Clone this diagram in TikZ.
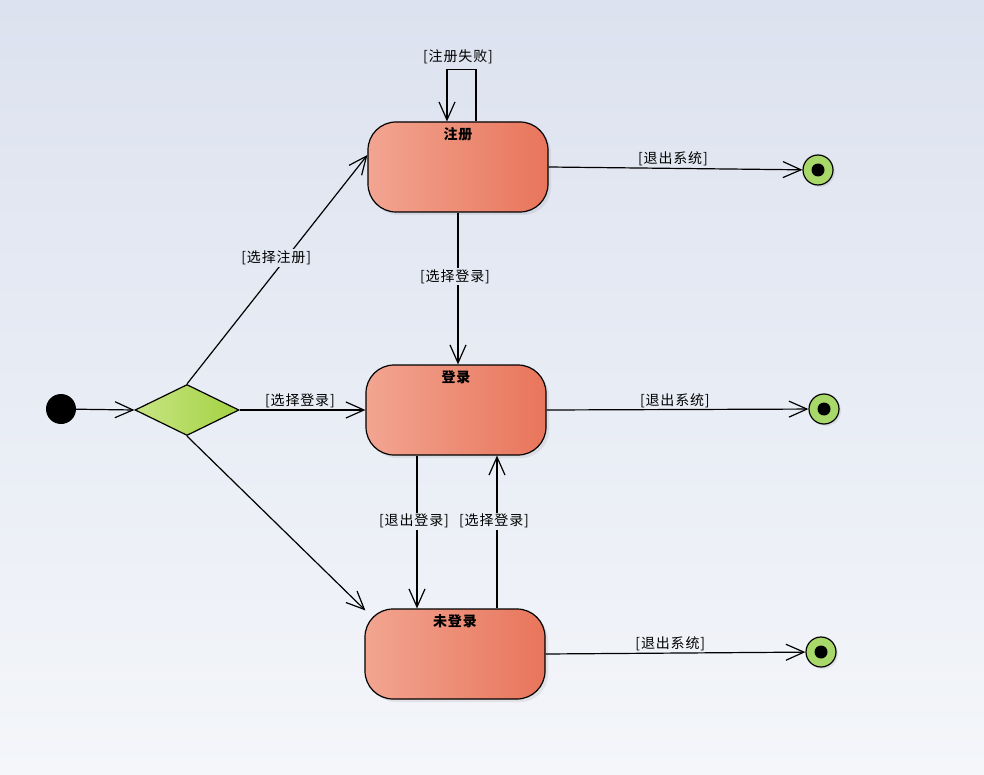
\documentclass[tikz,border=0pt]{standalone}
\usepackage{fontspec}
\newfontfamily\cjk[LetterSpace=6]{Noto Sans CJK SC}
\newfontfamily\cjktitle[LetterSpace=6]{Noto Sans CJK SC}
\usetikzlibrary{arrows.meta,positioning,shapes.geometric,shadows}

\definecolor{bgtop}{HTML}{DCE2EF}
\definecolor{bgbot}{HTML}{F4F6FA}
\definecolor{statel}{HTML}{F2A591}
\definecolor{stater}{HTML}{E8755B}
\definecolor{choicel}{HTML}{C8E585}
\definecolor{choicer}{HTML}{A3D241}
\definecolor{endfill}{HTML}{A9D86A}

\begin{document}
\begin{tikzpicture}[
    x=1pt, y=-1pt,
    state/.style={rectangle, draw, rounded corners=28pt, minimum width=180pt, minimum height=90pt, line width=1.2pt, left color=statel, right color=stater, drop shadow={shadow xshift=3pt, shadow yshift=-3pt, opacity=0.15}},
    statetitle/.style={font=\cjktitle\bfseries\fontsize{14}{16}\selectfont, inner sep=0pt},
    choice/.style={diamond, draw, line width=1.2pt, inner sep=0pt, minimum width=104pt, minimum height=51pt, left color=choicel, right color=choicer},
    startdot/.style={circle, fill=black, minimum size=30pt, inner sep=0pt},
    final/.style={circle, draw, line width=1.2pt, fill=endfill, minimum size=30pt, inner sep=0pt, drop shadow={shadow xshift=2pt, shadow yshift=-2pt, opacity=0.15}},
    finaldot/.style={circle, fill=black, minimum size=13pt, inner sep=0pt},
    arrow/.style={-{Straight Barb[length=18pt, width=16pt]}, line width=1.2pt},
    guard/.style={font=\cjk\fontsize{14}{16}\selectfont, inner sep=1.5pt},
    guardfill/.style={guard, fill=#1}
]
% Background
\fill[top color=bgtop, bottom color=bgbot] (0,0) rectangle (984,775);
\useasboundingbox (0,0) rectangle (984,775);

% Start and decision
\node[startdot] (init) at (61,409) {};
\node[choice] (choice) at (187,410) {};

% States
\node[state] (reg) at (458,167) {};
\node[state] (login) at (456,410) {};
\node[state] (nologin) at (455,654) {};
\node[statetitle, below=6pt of reg.north] (regtitle) {注册};
\node[statetitle, below=6pt of login.north] (logintitle) {登录};
\node[statetitle, below=6pt of nologin.north] (nologintitle) {未登录};

% Final states
\node[final] (end1) at (818,170) {};
\node[final] (end2) at (824,409) {};
\node[final] (end3) at (821,652) {};
\node[finaldot] (dot1) at (end1) {};
\node[finaldot] (dot2) at (end2) {};
\node[finaldot] (dot3) at (end3) {};

% Transitions
\draw[arrow] (init) -- (choice.west);
\draw[arrow] (choice.north) -- ([yshift=12pt]reg.west)
    node[guardfill=bgtop!68!bgbot, pos=0.55, xshift=-10pt] (gsel) {[选择注册]};
\draw[arrow] (choice.east) -- (login.west)
    node[guard, above, pos=0.48] (gchoice) {[选择登录]};
\draw[arrow] (choice.south) -- ([xshift=1pt, yshift=-2pt]nologin.north west);
\draw[arrow] (reg.south) -- (reg.south |- login.north)
    node[guardfill=bgtop!64!bgbot, pos=0.42, xshift=-3pt] (greg) {[选择登录]};

% Self loop
\draw[arrow] ([xshift=18pt]reg.north) -- ++(0,-52) -| ([xshift=-11pt]reg.north);
\node[guard] (gfail) at (458,57) {[注册失败]};

% Login / logout
\draw[arrow] ([xshift=-39pt]login.south) -- ([xshift=-39pt]login.south |- nologin.north)
    node[guardfill=bgtop!33!bgbot, pos=0.43, xshift=-3pt] (gout) {[退出登录]};
\draw[arrow] ([xshift=41pt]login.south |- nologin.north) -- ([xshift=41pt]login.south)
    node[guardfill=bgtop!33!bgbot, pos=0.57, xshift=-3pt] (gin) {[选择登录]};

% Exit system
\draw[arrow] (reg.east) -- (end1)
    node[guard, above, pos=0.49] (gexit1) {[退出系统]};
\draw[arrow] (login.east) -- (end2)
    node[guard, above, pos=0.49] (gexit2) {[退出系统]};
\draw[arrow] (nologin.east) -- (end3)
    node[guard, above, pos=0.48] (gexit3) {[退出系统]};
\end{tikzpicture}
\end{document}
